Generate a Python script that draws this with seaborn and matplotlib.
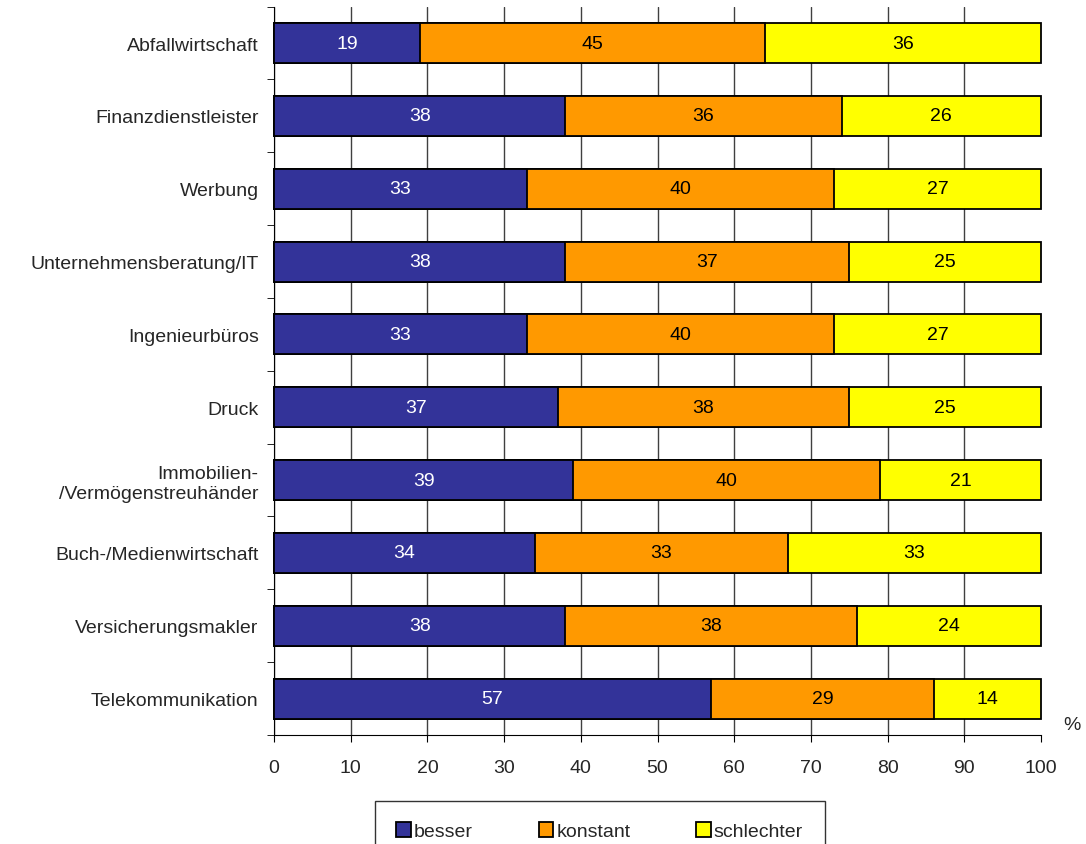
import numpy as np
import pandas as pd
import seaborn as sns
import matplotlib.pyplot as plt
from matplotlib.patches import Patch

# --- data ---
branchen = ['Abfallwirtschaft', 'Finanzdienstleister', 'Werbung',
            'Unternehmensberatung/IT', 'Ingenieurbüros', 'Druck',
            'Immobilien-\n/Vermögenstreuhänder', 'Buch-/Medienwirtschaft',
            'Versicherungsmakler', 'Telekommunikation']
besser = [19, 38, 33, 38, 33, 37, 39, 34, 38, 57]
konstant = [45, 36, 40, 37, 40, 38, 40, 33, 38, 29]
schlechter = [36, 26, 27, 25, 27, 25, 21, 33, 24, 14]
series_names = ['besser', 'konstant', 'schlechter']
colors = ['#333399', '#FF9900', '#FFFF00']
label_colors = ['white', 'black', 'black']

sns.set_style('white')
plt.rcParams['font.family'] = ['Liberation Sans', 'DejaVu Sans']
plt.rcParams['font.size'] = 14

df = pd.DataFrame({'Branche': branchen, 'besser': besser,
                   'konstant': konstant, 'schlechter': schlechter})
df['cum1'] = df['besser']
df['cum2'] = df['besser'] + df['konstant']
df['cum3'] = df['cum2'] + df['schlechter']

fig = plt.figure(figsize=(10.86, 8.45), dpi=100)
ax = fig.add_axes([0.2523, 0.1290, 0.7063, 0.8620])

# stacked bars: draw the longest first, then overlay shorter ones
for col, c in zip(['cum3', 'cum2', 'cum1'], colors[::-1]):
    sns.barplot(data=df, x=col, y='Branche', orient='h', color=c,
                saturation=1, width=0.55, edgecolor='black', linewidth=1.3,
                ax=ax, zorder=3)
for p in ax.patches:
    p.set_clip_on(False)

# value labels in the middle of each segment
starts = [np.zeros(len(branchen)), np.array(df['cum1']), np.array(df['cum2'])]
for vals, st, lc in zip([besser, konstant, schlechter], starts, label_colors):
    for i, (v, s) in enumerate(zip(vals, st)):
        ax.text(s + v / 2, i, str(v), ha='center', va='center',
                color=lc, fontsize=14, zorder=5)

ax.set_xlim(0, 100)
ax.set_ylim(len(branchen) - 0.5, -0.5)
ax.set_xticks(range(0, 101, 10))
ax.xaxis.grid(True, color='#404040', linewidth=1)
ax.set_axisbelow(True)
ax.set_xlabel('')
ax.set_ylabel('')
# no gridline on the right edge
ax.get_xgridlines()[-1].set_visible(False)

for side in ['top', 'right']:
    ax.spines[side].set_visible(False)
ax.spines['left'].set_color('black')
ax.spines['bottom'].set_color('black')

ax.tick_params(axis='x', bottom=True, direction='out', length=5,
               color='black', pad=12, labelsize=14)
ax.tick_params(axis='y', which='major', left=True, length=0, pad=11,
               labelsize=14)
ax.set_yticks(np.arange(-0.5, len(branchen)), minor=True)
ax.tick_params(axis='y', which='minor', left=True, direction='out',
               length=5, color='black')

ax.text(1.04, 0.015, '%', transform=ax.transAxes, fontsize=14,
        ha='center', va='center')

# legend
handles = [Patch(facecolor=c, edgecolor='black', linewidth=1.3) for c in colors]
leg = fig.legend(handles, series_names, loc='upper left',
                 bbox_to_anchor=(0.345, 0.051), ncol=3, frameon=True,
                 fancybox=False, edgecolor='black', fontsize=14,
                 handlelength=0.75, handleheight=0.75, handletextpad=0.15,
                 columnspacing=3.4, borderpad=1.1, borderaxespad=0)
leg.get_frame().set_linewidth(1)

fig.savefig('out.png', dpi=100)
